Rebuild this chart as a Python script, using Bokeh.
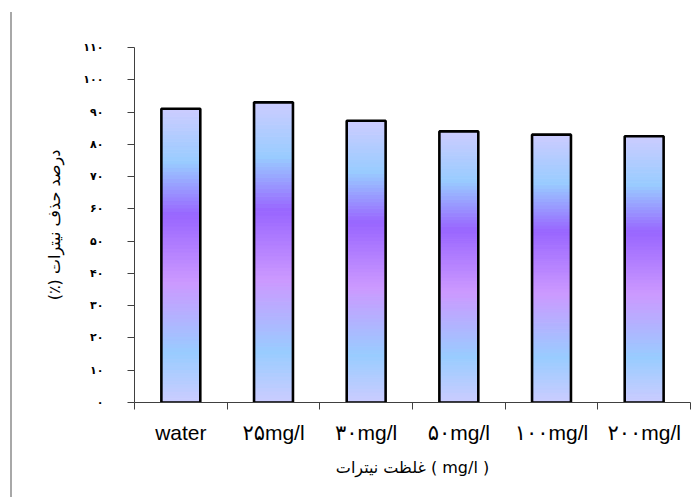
from bokeh.plotting import figure
from bokeh.layouts import row
from bokeh.models import Range1d, FixedTicker, ColumnDataSource, Div
from bokeh.embed import file_html
from bokeh.resources import INLINE

# Nitrate removal efficiency for each nitrate concentration
categories = ["water", "۲۵mg/l", "۳۰mg/l", "۵۰mg/l", "۱۰۰mg/l", "۲۰۰mg/l"]
removal = [91.0, 93.0, 87.3, 84.0, 83.0, 82.5]

y_ticks = [0, 10, 20, 30, 40, 50, 60, 70, 80, 90, 100, 110]
y_tick_labels = ["۰", "۱۰", "۲۰", "۳۰", "۴۰", "۵۰", "۶۰", "۷۰", "۸۰", "۹۰", "۱۰۰", "۱۱۰"]

x_title = "غلظت نیترات ( mg/l )"
y_title = "درصد حذف نیترات (٪)\u200f"

# Vertical gradient used inside each bar (position from bar bottom -> colour)
GRADIENT = [
    (0.00, (0xCC, 0xCC, 0xFF)),
    (0.17, (0x99, 0xCC, 0xFF)),
    (0.41, (0xCC, 0x99, 0xFF)),
    (0.64, (0x99, 0x66, 0xFF)),
    (0.82, (0x99, 0xCC, 0xFF)),
    (1.00, (0xCC, 0xCC, 0xFF)),
]


def gradient_colour(t):
    for (t0, c0), (t1, c1) in zip(GRADIENT[:-1], GRADIENT[1:]):
        if t0 <= t <= t1:
            f = (t - t0) / (t1 - t0)
            r, g, b = (round(a + (b_ - a) * f) for a, b_ in zip(c0, c1))
            return "#%02x%02x%02x" % (r, g, b)
    return "#%02x%02x%02x" % GRADIENT[-1][1]


BAR_WIDTH = 0.42
STRIPS = 80
RULE_W = 12

xs = [i + 0.5 for i in range(len(categories))]

strip_x, strip_bottom, strip_top, strip_colour = [], [], [], []
for x, v in zip(xs, removal):
    for k in range(STRIPS):
        strip_x.append(x)
        strip_bottom.append(v * k / STRIPS)
        strip_top.append(v * (k + 1) / STRIPS)
        strip_colour.append(gradient_colour((k + 0.5) / STRIPS))

p = figure(
    width=693 - RULE_W, height=497,
    x_range=Range1d(0, len(categories)),
    y_range=Range1d(0, 110),
    output_backend="svg", toolbar_location=None,
    min_border_left=134 - RULE_W, min_border_right=3,
    min_border_top=47, min_border_bottom=95,
)
p.background_fill_color = "white"
p.border_fill_color = "white"
p.outline_line_color = None
p.xgrid.grid_line_color = None
p.ygrid.grid_line_color = None

strips = ColumnDataSource(dict(x=strip_x, bottom=strip_bottom, top=strip_top, color=strip_colour))
p.vbar(x="x", width=BAR_WIDTH, bottom="bottom", top="top", source=strips,
       fill_color="color", line_color="color", line_width=1)

bars = ColumnDataSource(dict(x=xs, top=removal))
p.vbar(x="x", width=BAR_WIDTH, bottom=0, top="top", source=bars,
       fill_color=None, line_color="black", line_width=2.6)

# x axis: ticks on category boundaries, labels at category centres
xa = p.xaxis[0]
xa.ticker = FixedTicker(ticks=xs, minor_ticks=list(range(len(categories) + 1)))
xa.major_label_overrides = dict(zip(xs, categories))
xa.major_tick_in = 0
xa.major_tick_out = 0
xa.minor_tick_in = 0
xa.minor_tick_out = 7
xa.minor_tick_line_color = "#404040"
xa.axis_line_color = "#404040"
xa.major_label_text_font = "Liberation Sans, DejaVu Sans"
xa.major_label_text_font_size = "21px"
xa.major_label_text_color = "black"
xa.major_label_standoff = 11
xa.axis_label = x_title
xa.axis_label_text_font = "DejaVu Sans"
xa.axis_label_text_font_size = "16px"
xa.axis_label_text_font_style = "normal"
xa.axis_label_text_color = "black"
xa.axis_label_standoff = 11

ya = p.yaxis[0]
ya.ticker = FixedTicker(ticks=y_ticks, minor_ticks=[])
ya.major_label_overrides = dict(zip(y_ticks, y_tick_labels))
ya.major_tick_in = 0
ya.major_tick_out = 7
ya.minor_tick_out = 0
ya.minor_tick_in = 0
ya.major_tick_line_color = "#404040"
ya.axis_line_color = "#404040"
ya.major_label_text_font = "DejaVu Sans"
ya.major_label_text_font_size = "11px"
ya.major_label_text_font_style = "bold"
ya.major_label_text_color = "black"
ya.major_label_standoff = 24
ya.axis_label = y_title
ya.axis_label_text_font = "DejaVu Sans"
ya.axis_label_text_font_size = "16px"
ya.axis_label_text_font_style = "normal"
ya.axis_label_text_color = "black"
ya.axis_label_standoff = 16

# thin grey rule along the left edge of the page
rule = Div(
    text='<div style="position:absolute;left:10px;top:12px;width:1.5px;'
         'height:485px;background:#a8a8a8"></div>',
    width=RULE_W, height=497,
    styles={"position": "relative", "margin": "0", "padding": "0"},
)

layout = row(rule, p, spacing=0)

open("out.html", "w").write(file_html(layout, INLINE))
